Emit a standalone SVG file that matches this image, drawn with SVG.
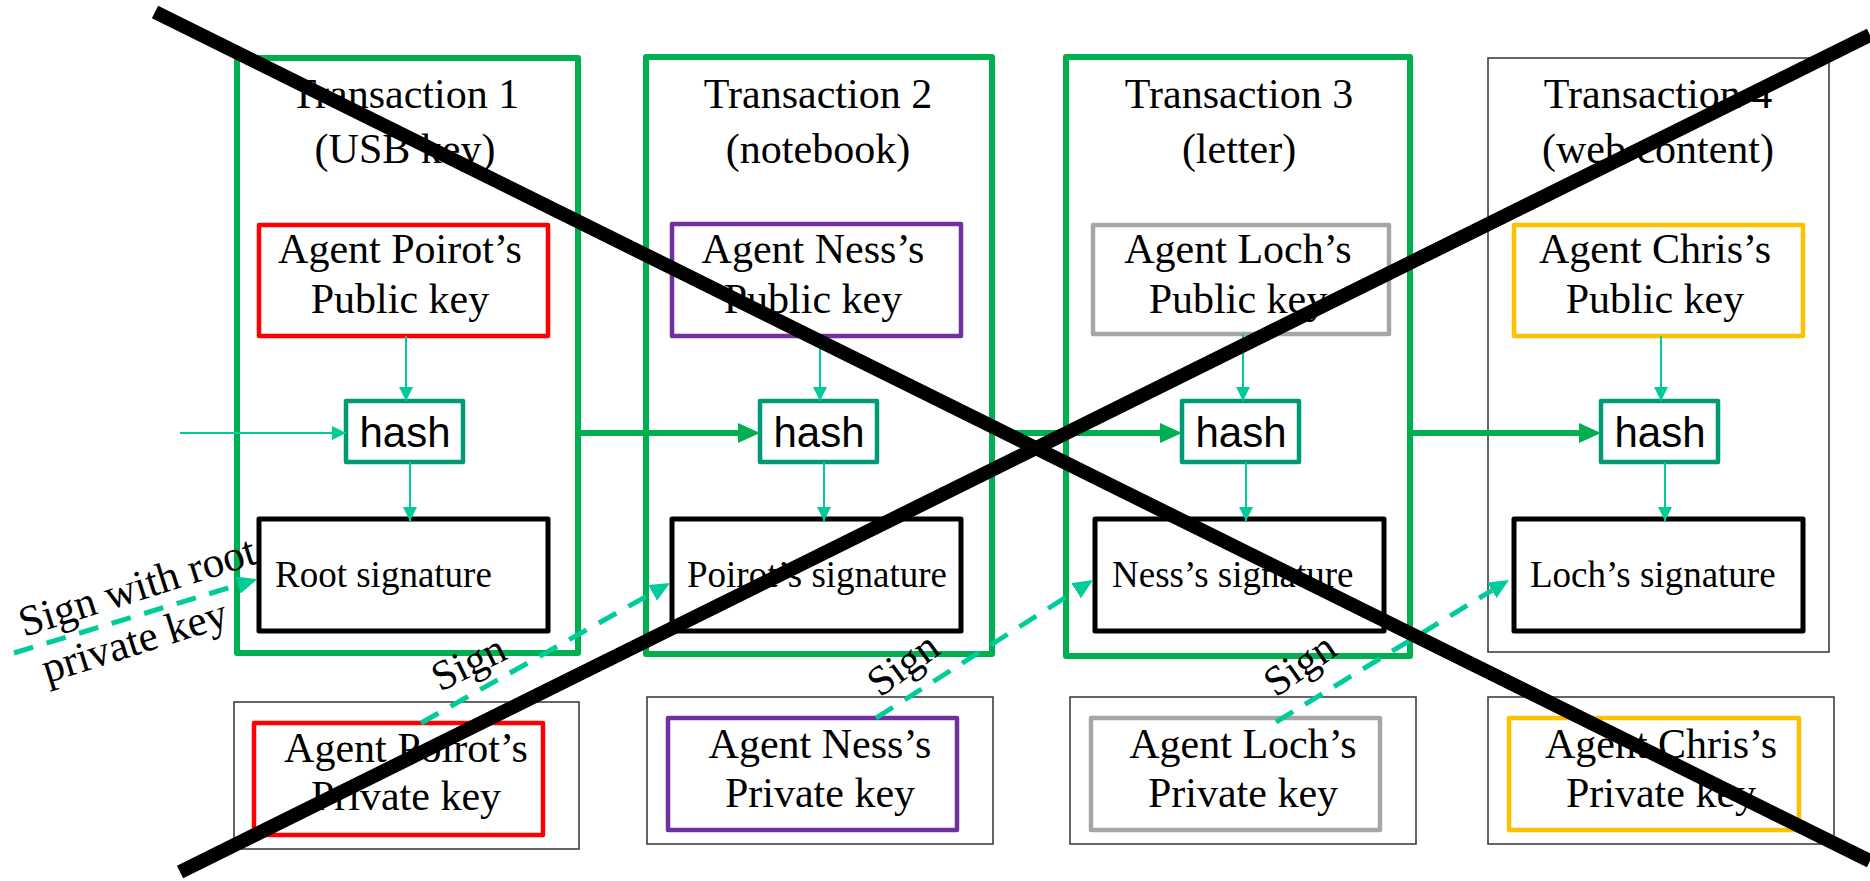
<svg xmlns="http://www.w3.org/2000/svg" width="1870" height="881" viewBox="0 0 1870 881">
<style>
.tx{fill:none;stroke:#00b050;stroke-width:6;stroke-linejoin:round}
.thin{fill:none;stroke:#333;stroke-width:1.5}
.key{fill:none;stroke-width:4.5;stroke-linejoin:round}
.hashb{fill:#fff;stroke:#009a74;stroke-width:4.5;stroke-linejoin:round}
.sig{fill:none;stroke:#000;stroke-width:5;stroke-linejoin:round}
.serif{font-family:"Liberation Serif","Times New Roman",serif;fill:#000}
.t42{font-size:42px;text-anchor:middle}
.t37{font-size:37px}
.hasht{font-family:"Liberation Sans",Arial,sans-serif;font-size:42px;text-anchor:middle;fill:#000}
.ta{stroke:#00cc99;stroke-width:2;fill:none}
.thick{stroke:#00b050;stroke-width:6;fill:none}
.dash{stroke:#00cc99;stroke-width:5;fill:none;stroke-dasharray:20 14}
.x{stroke:#000;stroke-width:14;fill:none}
</style>
<defs>
<marker id="ah" markerUnits="userSpaceOnUse" viewBox="0 0 14 14" markerWidth="14" markerHeight="14" refX="14" refY="7" orient="auto"><path d="M0,0 L14,7 L0,14 z" fill="#00cc99"/></marker>
<marker id="ahg" markerUnits="userSpaceOnUse" viewBox="0 0 22 20" markerWidth="22" markerHeight="20" refX="0" refY="10" orient="auto"><path d="M0,0 L22,10 L0,20 z" fill="#00b050"/></marker>
<marker id="ahd" markerUnits="userSpaceOnUse" viewBox="0 0 20 18" markerWidth="20" markerHeight="18" refX="0" refY="9" orient="auto"><path d="M0,0 L20,9 L0,18 z" fill="#00cc99"/></marker>
</defs>

<g id="tx1">
<rect class="tx" x="237" y="58" width="341" height="595"/>
<text class="serif t42" x="405" y="108">Transaction 1</text>
<text class="serif t42" x="405" y="163">(USB key)</text>
</g>
<g id="tx2">
<rect class="tx" x="646" y="57" width="346" height="597"/>
<text class="serif t42" x="818" y="108">Transaction 2</text>
<text class="serif t42" x="818" y="163">(notebook)</text>
</g>
<g id="tx3">
<rect class="tx" x="1066" y="57" width="344" height="599"/>
<text class="serif t42" x="1239" y="108">Transaction 3</text>
<text class="serif t42" x="1239" y="163">(letter)</text>
</g>
<g id="tx4">
<rect class="thin" x="1488" y="58" width="341" height="594"/>
<text class="serif t42" x="1658" y="108">Transaction 4</text>
<text class="serif t42" x="1658" y="163">(web content)</text>
</g>

<g id="pub1">
<rect class="key" stroke="#ff0000" x="259" y="225" width="289" height="111"/>
<text class="serif t42" x="400" y="263">Agent Poirot’s</text>
<text class="serif t42" x="400" y="313">Public key</text>
</g>
<g id="pub2">
<rect class="key" stroke="#7030a0" x="672" y="224" width="289" height="112"/>
<text class="serif t42" x="813" y="263">Agent Ness’s</text>
<text class="serif t42" x="813" y="313">Public key</text>
</g>
<g id="pub3">
<rect class="key" stroke="#a6a6a6" x="1093" y="225" width="296" height="109"/>
<text class="serif t42" x="1238" y="263">Agent Loch’s</text>
<text class="serif t42" x="1238" y="313">Public key</text>
</g>
<g id="pub4">
<rect class="key" stroke="#ffc000" x="1514" y="225" width="289" height="111"/>
<text class="serif t42" x="1655" y="263">Agent Chris’s</text>
<text class="serif t42" x="1655" y="313">Public key</text>
</g>

<g id="hash1"><rect class="hashb" x="346" y="401" width="117" height="61"/><text class="hasht" x="405" y="447">hash</text></g>
<g id="hash2"><rect class="hashb" x="760" y="401" width="117" height="61"/><text class="hasht" x="819" y="447">hash</text></g>
<g id="hash3"><rect class="hashb" x="1182" y="401" width="117" height="61"/><text class="hasht" x="1241" y="447">hash</text></g>
<g id="hash4"><rect class="hashb" x="1601" y="401" width="117" height="61"/><text class="hasht" x="1660" y="447">hash</text></g>

<g id="sig1"><rect class="sig" x="259" y="519" width="289" height="112"/><text class="serif t37" x="275" y="587">Root signature</text></g>
<g id="sig2"><rect class="sig" x="672" y="519" width="289" height="112"/><text class="serif t37" x="687" y="587">Poirot’s signature</text></g>
<g id="sig3"><rect class="sig" x="1095" y="519" width="289" height="112"/><text class="serif t37" x="1112" y="587">Ness’s signature</text></g>
<g id="sig4"><rect class="sig" x="1514" y="519" width="289" height="112"/><text class="serif t37" x="1530" y="587">Loch’s signature</text></g>

<g id="priv1">
<rect class="thin" x="234" y="702" width="345" height="147"/>
<rect class="key" stroke="#ff0000" x="254" y="723" width="289" height="112"/>
<text class="serif t42" x="406" y="762">Agent Poirot’s</text>
<text class="serif t42" x="406" y="810">Private key</text>
</g>
<g id="priv2">
<rect class="thin" x="647" y="697" width="346" height="147"/>
<rect class="key" stroke="#7030a0" x="668" y="718" width="289" height="112"/>
<text class="serif t42" x="820" y="758">Agent Ness’s</text>
<text class="serif t42" x="820" y="807">Private key</text>
</g>
<g id="priv3">
<rect class="thin" x="1070" y="697" width="346" height="147"/>
<rect class="key" stroke="#a6a6a6" x="1091" y="718" width="289" height="112"/>
<text class="serif t42" x="1243" y="758">Agent Loch’s</text>
<text class="serif t42" x="1243" y="807">Private key</text>
</g>
<g id="priv4">
<rect class="thin" x="1488" y="697" width="346" height="147"/>
<rect class="key" stroke="#ffc000" x="1509" y="718" width="290" height="112"/>
<text class="serif t42" x="1661" y="758">Agent Chris’s</text>
<text class="serif t42" x="1661" y="807">Private key</text>
</g>

<g id="connectors">
<line class="ta" x1="180" y1="433" x2="346" y2="433" marker-end="url(#ah)"/>
<line class="ta" x1="406" y1="336" x2="406" y2="401" marker-end="url(#ah)"/>
<line class="ta" x1="820" y1="336" x2="820" y2="401" marker-end="url(#ah)"/>
<line class="ta" x1="1243" y1="334" x2="1243" y2="401" marker-end="url(#ah)"/>
<line class="ta" x1="1661" y1="336" x2="1661" y2="401" marker-end="url(#ah)"/>
<line class="ta" x1="410" y1="462" x2="410" y2="521" marker-end="url(#ah)"/>
<line class="ta" x1="824" y1="462" x2="824" y2="521" marker-end="url(#ah)"/>
<line class="ta" x1="1246" y1="462" x2="1246" y2="521" marker-end="url(#ah)"/>
<line class="ta" x1="1665" y1="462" x2="1665" y2="521" marker-end="url(#ah)"/>
<line class="thick" x1="578" y1="433" x2="738" y2="433" marker-end="url(#ahg)"/>
<line class="thick" x1="992" y1="433" x2="1160" y2="433" marker-end="url(#ahg)"/>
<line class="thick" x1="1410" y1="433" x2="1579" y2="433" marker-end="url(#ahg)"/>
<line class="dash" x1="14" y1="653" x2="238" y2="585" marker-end="url(#ahd)"/>
<line class="dash" x1="421" y1="723" x2="652.6" y2="592.8" marker-end="url(#ahd)"/>
<line class="dash" x1="876" y1="718" x2="1076.1" y2="590.7" marker-end="url(#ahd)"/>
<line class="dash" x1="1276" y1="722" x2="1491.9" y2="590.4" marker-end="url(#ahd)"/>
</g>

<g id="labels">
<g transform="translate(24,637) rotate(-17.5)">
<text class="serif" font-size="43" x="0" y="0">Sign with root</text>
<text class="serif" font-size="43" x="8" y="51">private key</text>
</g>
<text class="serif" font-size="42" transform="translate(440,692) rotate(-26)">Sign</text>
<text class="serif" font-size="42" transform="translate(880,698) rotate(-36)">Sign</text>
<text class="serif" font-size="42" transform="translate(1276,698) rotate(-35)">Sign</text>
</g>

<g id="cross">
<line class="x" x1="155" y1="12" x2="1870" y2="861"/>
<line class="x" x1="180" y1="872" x2="1870" y2="35"/>
</g>
</svg>
